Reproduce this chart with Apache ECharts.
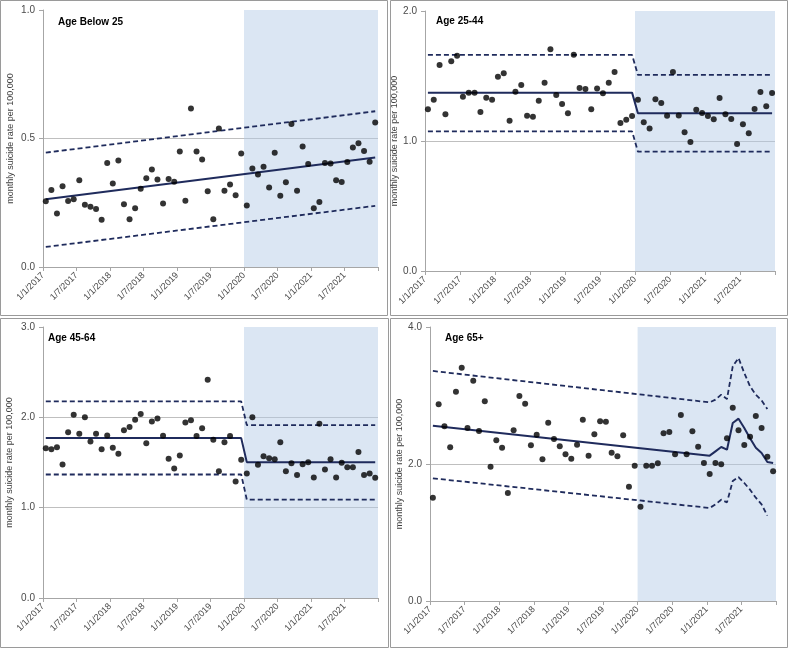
<!DOCTYPE html>
<html>
<head>
<meta charset="utf-8">
<script src="https://cdn.jsdelivr.net/npm/echarts@6/dist/echarts.min.js"></script>
<style>
html,body{margin:0;padding:0;background:#fff;}
#chart{width:788px;height:648px;}
</style>
</head>
<body>
<div id="chart"></div>
<script>
// ---- Data (monthly, Jan 2017 .. Dec 2021) ----
const xTickLabels = ['1/1/2017','1/7/2017','1/1/2018','1/7/2018','1/1/2019','1/7/2019','1/1/2020','1/7/2020','1/1/2021','1/7/2021'];
const shadeStartMonth = 36; // Jan 2020
const monthCount = 60;

const titles = ['Age Below 25', 'Age 25-44', 'Age 45-64', 'Age 65+'];
const yAxisName = 'monthly suicide rate per 100,000';
const yMaxes = [1.0, 2.0, 3.0, 4.0];
const yIntervals = [0.5, 1.0, 1.0, 2.0];

const ratesBelow25 = [0.256,0.300,0.208,0.314,0.257,0.264,0.338,0.242,0.234,0.226,0.184,0.405,0.325,0.414,0.244,0.186,0.229,0.304,0.345,0.379,0.340,0.247,0.342,0.332,0.449,0.258,0.617,0.449,0.418,0.295,0.186,0.539,0.297,0.321,0.279,0.442,0.239,0.383,0.360,0.390,0.309,0.445,0.277,0.330,0.556,0.297,0.469,0.401,0.229,0.253,0.405,0.403,0.338,0.331,0.409,0.465,0.482,0.451,0.410,0.562];
const rates25to44 = [1.244,1.318,1.585,1.205,1.613,1.656,1.341,1.372,1.372,1.223,1.333,1.318,1.495,1.521,1.156,1.379,1.431,1.195,1.187,1.310,1.449,1.705,1.354,1.285,1.213,1.664,1.408,1.400,1.244,1.403,1.367,1.449,1.531,1.138,1.164,1.192,1.318,1.144,1.097,1.321,1.292,1.195,1.531,1.197,1.067,0.992,1.241,1.215,1.192,1.167,1.331,1.205,1.169,0.977,1.128,1.059,1.246,1.377,1.267,1.369];
const rates45to64 = [1.659,1.648,1.670,1.478,1.836,2.028,1.818,2.002,1.733,1.818,1.648,1.799,1.663,1.596,1.858,1.892,1.973,2.036,1.714,1.954,1.988,1.796,1.541,1.433,1.578,1.943,1.969,1.792,1.880,2.416,1.751,1.404,1.725,1.792,1.289,1.530,1.378,2.002,1.474,1.570,1.548,1.537,1.725,1.404,1.493,1.363,1.481,1.504,1.334,1.929,1.422,1.537,1.334,1.496,1.448,1.448,1.615,1.363,1.378,1.330];
const rates65plus = [1.509,2.871,2.550,2.243,3.056,3.406,2.526,3.217,2.482,2.915,1.961,2.345,2.238,1.577,2.491,2.993,2.881,2.273,2.428,2.068,2.603,2.365,2.258,2.141,2.078,2.282,2.647,2.122,2.433,2.623,2.618,2.165,2.112,2.418,1.669,1.976,1.377,1.976,1.976,2.010,2.448,2.467,2.141,2.715,2.141,2.477,2.253,2.015,1.854,2.015,1.995,2.375,2.822,2.491,2.277,2.399,2.701,2.526,2.107,1.893];

// Fitted centre line and control limits: [monthIndex, value] vertices
const centreBelow25 = [[0,0.264],[59,0.426]];
const upperBelow25  = [[0,0.445],[59,0.606]];
const lowerBelow25  = [[0,0.078],[59,0.238]];

const centre25to44 = [[0,1.372],[35,1.372],[36,1.213],[59,1.213]];
const upper25to44  = [[0,1.662],[35,1.662],[36,1.508],[59,1.508]];
const lower25to44  = [[0,1.074],[35,1.074],[36,0.918],[59,0.918]];

const centre45to64 = [[0,1.770],[35,1.770],[36,1.504],[59,1.504]];
const upper45to64  = [[0,2.176],[35,2.176],[36,1.914],[59,1.914]];
const lower45to64  = [[0,1.367],[35,1.367],[36,1.090],[59,1.090]];

const centre65plus = [[0,2.559],[48,2.122],[49,2.185],[50,2.248],[51,2.209],[52,2.599],[53,2.662],[54,2.526],[55,2.375],[56,2.238],[57,2.161],[58,2.029],[59,2.015]];
const upper65plus  = [[0,3.358],[48,2.900],[49,2.939],[50,3.012],[51,2.949],[52,3.426],[53,3.547],[54,3.328],[55,3.134],[56,3.012],[57,2.929],[58,2.803]];
const lower65plus  = [[0,1.791],[48,1.358],[49,1.411],[50,1.479],[51,1.440],[52,1.752],[53,1.810],[54,1.723],[55,1.625],[56,1.508],[57,1.411],[58,1.245]];

const panelRates = [ratesBelow25, rates25to44, rates45to64, rates65plus];
const panelCentre = [centreBelow25, centre25to44, centre45to64, centre65plus];
const panelUpper = [upperBelow25, upper25to44, upper45to64, upper65plus];
const panelLower = [lowerBelow25, lower25to44, lower45to64, lower65plus];

// ---- Layout & style ----
const grids = [
  {left: 43, top: 10, width: 335, height: 257},
  {left: 425, top: 11, width: 350, height: 260},
  {left: 43, top: 327, width: 335, height: 271},
  {left: 430, top: 327, width: 346, height: 274}
];
const nameGaps = [28, 21, 29, 26];
const titlePos = [[58,17],[436,16],[48,333],[445,333]];
const frames = [[0.5,0.5,387,315],[390.5,0.5,397,315],[0.5,318.5,388,329],[390.5,318.5,397,329]];

const NAVY = '#1f2b5c';
const AXIS_GRAY = '#a6a6a6';
const FONT = 'Liberation Sans, Arial, sans-serif';

const option = {
  animation: false,
  backgroundColor: '#ffffff',
  grid: grids.map(g => Object.assign({containLabel: false}, g)),
  title: titles.map((t, i) => ({
    text: t, left: titlePos[i][0], top: titlePos[i][1], padding: 0,
    textStyle: {fontSize: 10, fontWeight: 'bold', color: '#000', fontFamily: FONT}
  })),
  graphic: frames.map(f => ({
    type: 'rect', shape: {x: f[0], y: f[1], width: f[2], height: f[3]},
    style: {fill: 'none', stroke: '#9a9a9a', lineWidth: 1}, silent: true, z: -1
  })),
  xAxis: grids.map((g, i) => ({
    type: 'value', gridIndex: i, min: 0, max: monthCount, interval: 6,
    axisLine: {show: true, lineStyle: {color: AXIS_GRAY, width: 1}},
    axisTick: {show: true, length: 4, lineStyle: {color: AXIS_GRAY}},
    splitLine: {show: false},
    axisLabel: {
      rotate: 45, margin: 7, fontSize: 9, color: '#4a4a4a', fontFamily: FONT,
      showMaxLabel: true,
      formatter: v => xTickLabels[Math.round(v / 6)] || ''
    }
  })),
  yAxis: grids.map((g, i) => ({
    type: 'value', gridIndex: i, min: 0, max: yMaxes[i], interval: yIntervals[i],
    name: yAxisName, nameLocation: 'middle', nameGap: nameGaps[i],
    nameTextStyle: {fontSize: 9, color: '#404040', fontFamily: FONT},
    axisLine: {show: true, lineStyle: {color: AXIS_GRAY, width: 1}},
    axisTick: {show: true, length: 4, lineStyle: {color: AXIS_GRAY}},
    splitLine: {show: true, showMinLine: false, showMaxLine: false, lineStyle: {color: '#bfbfbf', width: 1}},
    axisLabel: {fontSize: 10, color: '#4a4a4a', margin: 8, fontFamily: FONT, formatter: v => v.toFixed(1)}
  })),
  series: []
};

const toXY = pts => pts.map(p => [p[0] + 0.5, p[1]]);

for (let i = 0; i < 4; i++) {
  option.series.push({
    type: 'line', xAxisIndex: i, yAxisIndex: i, data: toXY(panelLower[i]),
    symbol: 'none', silent: true, z: 3,
    lineStyle: {color: NAVY, width: 1.8, type: [5, 3]},
    markArea: {
      silent: true,
      itemStyle: {color: 'rgba(180,202,230,0.48)', borderWidth: 0},
      data: [[{xAxis: shadeStartMonth}, {xAxis: monthCount}]]
    }
  });
  option.series.push({
    type: 'line', xAxisIndex: i, yAxisIndex: i, data: toXY(panelUpper[i]),
    symbol: 'none', silent: true, z: 3,
    lineStyle: {color: NAVY, width: 1.8, type: [5, 3]}
  });
  option.series.push({
    type: 'line', xAxisIndex: i, yAxisIndex: i, data: toXY(panelCentre[i]),
    symbol: 'none', silent: true, z: 3,
    lineStyle: {color: NAVY, width: 2, type: 'solid'}
  });
  option.series.push({
    type: 'scatter', xAxisIndex: i, yAxisIndex: i,
    data: panelRates[i].map((v, k) => [k + 0.5, v]),
    symbol: 'circle', symbolSize: 6, z: 4,
    itemStyle: {color: '#000000'}
  });
}

const chart = echarts.init(document.getElementById('chart'), null, {renderer: 'canvas'});
chart.setOption(option);
</script>
</body>
</html>
